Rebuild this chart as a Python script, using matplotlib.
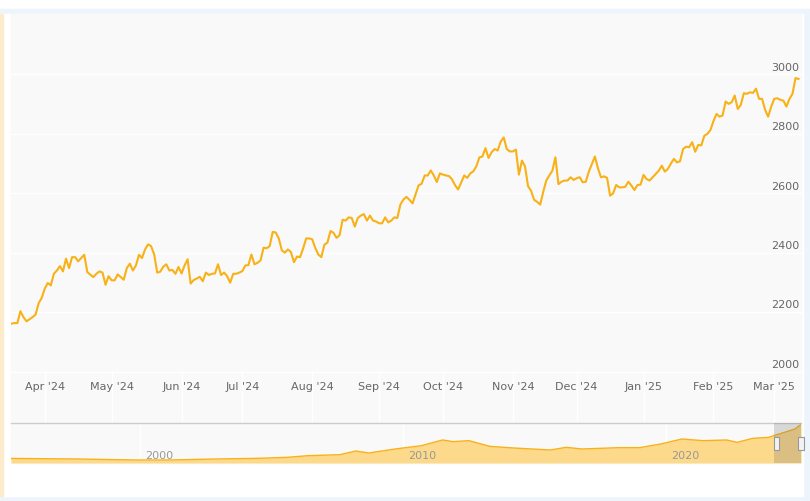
import pandas as pd
import matplotlib
matplotlib.use("Agg")
import matplotlib.pyplot as plt
from matplotlib.patches import Rectangle

# daily gold price (USD/oz), one value per weekday from 15 Mar 2024
gold_usd = [
    2161, 2163, 2163, 2203, 2183, 2169, 2176, 2183, 2192, 2230,
    2248, 2279, 2298, 2290, 2329, 2340, 2355, 2337, 2380, 2348,
    2385, 2385, 2371, 2382, 2393, 2335, 2326, 2318, 2329, 2337,
    2333, 2292, 2321, 2307, 2307, 2327, 2318, 2309, 2348, 2363,
    2340, 2357, 2393, 2382, 2411, 2428, 2422, 2394, 2333, 2336,
    2353, 2361, 2340, 2342, 2329, 2352, 2330, 2357, 2378, 2296,
    2308, 2313, 2319, 2304, 2333, 2325, 2329, 2330, 2361, 2325,
    2333, 2321, 2299, 2329, 2329, 2333, 2338, 2357, 2358, 2394,
    2361, 2366, 2374, 2417, 2415, 2422, 2470, 2468, 2448, 2408,
    2400, 2411, 2402, 2368, 2387, 2385, 2414, 2448, 2448, 2445,
    2416, 2394, 2385, 2427, 2434, 2473, 2467, 2450, 2459, 2511,
    2508, 2519, 2517, 2488, 2517, 2525, 2530, 2508, 2525, 2508,
    2505, 2499, 2499, 2519, 2502, 2508, 2519, 2517, 2562, 2579,
    2588, 2578, 2566, 2597, 2627, 2632, 2660, 2660, 2677, 2660,
    2638, 2667, 2663, 2660, 2658, 2647, 2627, 2613, 2636, 2660,
    2652, 2667, 2674, 2691, 2721, 2724, 2752, 2719, 2738, 2749,
    2744, 2774, 2788, 2749, 2741, 2741, 2747, 2663, 2710, 2691,
    2624, 2608, 2578, 2571, 2562, 2605, 2643, 2660, 2676, 2721,
    2631, 2639, 2643, 2643, 2654, 2645, 2651, 2654, 2637, 2639,
    2673, 2699, 2724, 2684, 2654, 2657, 2652, 2592, 2600, 2628,
    2620, 2620, 2622, 2639, 2626, 2611, 2628, 2629, 2662, 2648,
    2643, 2654, 2665, 2676, 2693, 2673, 2682, 2700, 2716, 2704,
    2708, 2749, 2757, 2755, 2772, 2740, 2763, 2761, 2794, 2800,
    2813, 2843, 2867, 2858, 2862, 2909, 2901, 2907, 2929, 2884,
    2898, 2937, 2935, 2940, 2938, 2952, 2918, 2918, 2881, 2858,
    2892, 2918, 2920, 2915, 2912, 2892, 2918, 2935, 2988, 2985,
]
start_date = "2024-03-15"
y_ticks = [2000, 2200, 2400, 2600, 2800, 3000]

# long history shown in the navigator
hist_year = [1995.09, 1997.6, 1999.8, 2001.1, 2002.9, 2004.5, 2005.6, 2006.4,
             2007.6, 2008.2, 2008.7, 2009.7, 2010.7, 2011.5, 2011.9, 2012.5,
             2013.3, 2014.2, 2015.6, 2016.2, 2016.8, 2018.2, 2019.0, 2019.8,
             2020.6, 2021.4, 2022.3, 2022.7, 2023.3, 2023.9, 2024.3, 2024.6,
             2024.9, 2025.13]
hist_usd = [400, 356, 280, 280, 356, 407, 483, 610,
            686, 965, 813, 1118, 1372, 1804, 1677, 1753,
            1321, 1194, 1042, 1245, 1118, 1220, 1220, 1499,
            1880, 1753, 1804, 1626, 1931, 2007, 2261, 2450,
            2642, 2985]
nav_ticks = [2000, 2010, 2020]

W, H = 810, 502
LINE = "#f8b116"
TXT = "#666666"


def box(x0, y0, x1, y1):
    # pixel box (from top-left) -> figure fraction rect
    return [x0 / W, 1 - y1 / H, (x1 - x0) / W, (y1 - y0) / H]


def fig_rect(x0, y0, x1, y1, zorder=-10, **kw):
    l, b, w, h = box(x0, y0, x1, y1)
    fig.patches.append(Rectangle((l, b), w, h, transform=fig.transFigure,
                                 zorder=zorder, **kw))


fig = plt.figure(figsize=(W / 100, H / 100), dpi=100)
fig.patch.set_facecolor("white")

# card frame
fig_rect(0, 10, 810, 502, color="#edf4fb", zorder=-13)
fig_rect(0, 15, 803, 497, color="white", zorder=-12)
fig_rect(0, 15, 3.5, 497, color="#fdeccb", zorder=-11)
fig_rect(11, 15, 801, 464, color="#f9f9f9", zorder=-10)

# main chart
dates = pd.bdate_range(start_date, periods=len(gold_usd))
idx = list(range(len(gold_usd)))
ax = fig.add_axes(box(11, 15, 801, 372.5))
ax.set_facecolor("none")
for s in ax.spines.values():
    s.set_visible(False)
ax.set_xlim(-0.1, 259.8)
ax.set_ylim(2000, 3203.7)

for v in y_ticks:
    ax.axhline(v, color="white", lw=1, zorder=1, clip_on=False)
    ax.annotate(str(v), xy=(1, v), xycoords=("axes fraction", "data"),
                xytext=(-1, 2), textcoords="offset points",
                ha="right", va="bottom", fontsize=8, color=TXT)
ax.set_yticks([])

ax.plot(idx, gold_usd, color=LINE, lw=1.5, zorder=3, solid_joinstyle="round")

month_pos = []
month_lab = []
for i, d in enumerate(dates):
    if i > 0 and d.month != dates[i - 1].month:
        month_pos.append(i)
        month_lab.append(d.strftime("%b '%y"))
ax.set_xticks(month_pos)
ax.set_xticklabels(month_lab, fontsize=8, color=TXT)
ax.tick_params(axis="x", length=0, pad=7)
ax.vlines(month_pos, 1826, 2000, colors="white", lw=1, clip_on=False, zorder=0)

# navigator
nav = fig.add_axes(box(11, 424, 801, 464))
nav.set_facecolor("none")
for k, s in nav.spines.items():
    s.set_visible(k == "top")
nav.spines["top"].set_color("#cccccc")
nav.spines["top"].set_linewidth(1)
nav.set_xlim(1995.09, 2025.13)
nav.set_ylim(51, 3099)
nav.set_xticks([])
nav.set_yticks([])
for yr in nav_ticks:
    nav.axvline(yr, color="white", lw=1, zorder=0)
    nav.annotate(str(yr), xy=(yr, 0), xycoords=("data", "axes fraction"),
                 xytext=(3.5, 2), textcoords="offset points",
                 ha="left", va="bottom", fontsize=8, color="#999999", zorder=5)
nav.fill_between(hist_year, hist_usd, 51, color="#fcd98b", lw=0, zorder=1)
nav.plot(hist_year, hist_usd, color=LINE, lw=1, zorder=2)
nav.axvspan(2024.1, 2025.13, color="#666666", alpha=0.22, lw=0, zorder=3)

# navigator handles
fig_rect(773.5, 438, 779, 451, zorder=5, facecolor="#f2f2f2", edgecolor="#999999", lw=0.8)
fig_rect(798, 438, 803.5, 451, zorder=5, facecolor="#f2f2f2", edgecolor="#999999", lw=0.8)

fig.savefig("out.png", dpi=100)
